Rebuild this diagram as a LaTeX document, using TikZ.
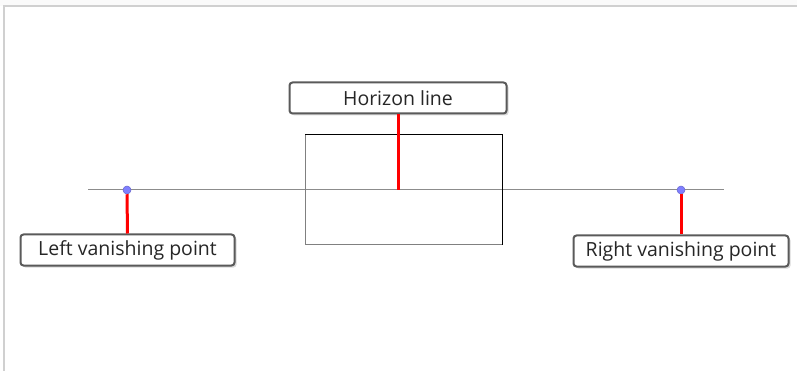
\documentclass[tikz,border=0pt]{standalone}
\usepackage{fontspec}
\setmainfont{Open Sans}
\usetikzlibrary{shadows}

\definecolor{framegray}{HTML}{D0D0D0}
\definecolor{linegray}{HTML}{8C8C8C}
\definecolor{boxgray}{HTML}{5A5A5A}
\definecolor{dotblue}{HTML}{7F7FFF}

\tikzset{
    label box/.style={draw=boxgray, line width=2pt, rounded corners=3pt, fill=white,
        minimum height=31pt, inner sep=0pt, font=\fontsize{19.5}{22}\selectfont,
        text=black!85, drop shadow={shadow xshift=2pt, shadow yshift=-2pt, opacity=0.3}},
    vanish dot/.style={circle, draw=dotblue!80!black, fill=dotblue, line width=0.5pt,
        minimum size=8pt, inner sep=0pt},
    pointer/.style={red, line width=3pt}
}

\begin{document}
\begin{tikzpicture}[x=1pt, y=-1pt]
            \useasboundingbox (0,0) rectangle (797,371);
            \fill[black!2] (0,0) rectangle (797,6);
            \draw[framegray, line width=1.5pt] (4,371) -- (4,6) -- (797,6);

            % horizon and box
            \draw[linegray, line width=1pt] (88,190) -- (724,190);
            \draw[black, line width=1pt] (305,135) -- (502,135) -- (502,245);
            \draw[black!50, line width=1pt] (305,135) -- (305,245) -- (502,245);

            \node[vanish dot] (lv) at (127,190) {};
            \node[vanish dot] (rv) at (681,190) {};
            \coordinate (hc) at (398,190);

            \node[label box, minimum width=217pt] (h) at (398,98) {Horizon line};
            \node[label box, minimum width=214pt] (l) at (127.5,250) {Left vanishing point};
            \node[label box, minimum width=215pt] (r) at (681,251) {Right vanishing point};

            \draw[pointer] (h.south) -- (hc);
            \draw[pointer] (lv.south) -- (l.north);
            \draw[pointer] (rv.south) -- (r.north);
        \end{tikzpicture}
\end{document}
